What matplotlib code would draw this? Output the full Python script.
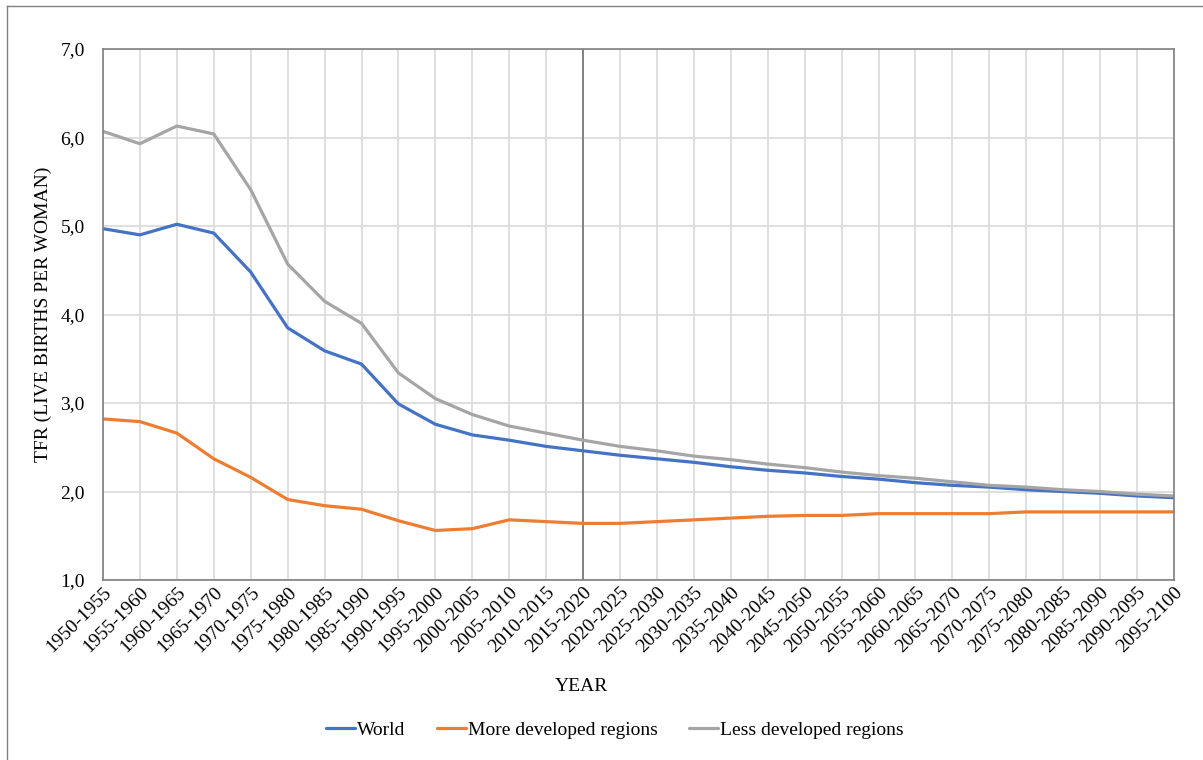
import numpy as np
import matplotlib
matplotlib.use("Agg")
import matplotlib.pyplot as plt
from matplotlib.lines import Line2D
from matplotlib.ticker import FuncFormatter

periods = [f"{y}-{y + 5}" for y in range(1950, 2100, 5)]

world = [4.97, 4.90, 5.02, 4.92, 4.48, 3.85, 3.59, 3.44, 2.99, 2.76,
         2.64, 2.58, 2.51, 2.46, 2.41, 2.37, 2.33, 2.28, 2.24, 2.21,
         2.17, 2.14, 2.10, 2.07, 2.05, 2.02, 2.00, 1.98, 1.95, 1.93]
more_dev = [2.82, 2.79, 2.66, 2.37, 2.16, 1.91, 1.84, 1.80, 1.67, 1.56,
            1.58, 1.68, 1.66, 1.64, 1.64, 1.66, 1.68, 1.70, 1.72, 1.73,
            1.73, 1.75, 1.75, 1.75, 1.75, 1.77, 1.77, 1.77, 1.77, 1.77]
less_dev = [6.07, 5.93, 6.13, 6.04, 5.41, 4.57, 4.15, 3.90, 3.34, 3.05,
            2.87, 2.74, 2.66, 2.58, 2.51, 2.46, 2.40, 2.36, 2.31, 2.27,
            2.22, 2.18, 2.15, 2.11, 2.07, 2.05, 2.02, 2.00, 1.97, 1.95]

plt.rcParams['font.family'] = ['Liberation Serif', 'DejaVu Serif']
FS = 14

fig = plt.figure(figsize=(12.03, 7.60), dpi=100)
ax = fig.add_axes([0.0856, 0.2368, 0.8903, 0.6987])

x = np.arange(len(periods))
ax.plot(x, world, color='#4472C4', lw=2.3, label='World', solid_capstyle='round')
ax.plot(x, more_dev, color='#ED7D31', lw=2.3, label='More developed regions', solid_capstyle='round')
ax.plot(x, less_dev, color='#A5A5A5', lw=2.3, label='Less developed regions', solid_capstyle='round')

# marker for the current period
ax.axvline(periods.index('2015-2020'), color='#7a7a7a', lw=1.3, zorder=1)

ax.set_xlim(0, len(periods) - 1)
ax.set_ylim(1, 7)
ax.set_yticks(np.arange(1, 8))
ax.yaxis.set_major_formatter(FuncFormatter(lambda v, p: f"{v:.1f}".replace('.', ',')))
ax.set_xticks(x)
ax.set_xticklabels(periods, rotation=45, ha='right', rotation_mode='anchor')
ax.tick_params(axis='both', length=0, labelsize=FS, colors='black')
ax.tick_params(axis='x', pad=3)
ax.tick_params(axis='y', pad=13)

ax.grid(True, color='#d9d9d9', lw=1.2)
ax.set_axisbelow(True)
for s in ax.spines.values():
    s.set_color('#808080')
    s.set_linewidth(1.2)

ax.set_ylabel('TFR (LIVE BIRTHS PER WOMAN)', fontsize=FS, labelpad=6)
ax.set_xlabel('YEAR', fontsize=FS)
ax.xaxis.set_label_coords(0.447, -0.184)

fig.legend(loc='center', bbox_to_anchor=(0.511, 0.039), ncol=3, frameon=False,
           fontsize=FS, handlelength=1.5, handletextpad=0.1, columnspacing=1.6)

# chart area border (only top and left edges fall inside the picture)
W, H = 1203, 760
fig.add_artist(Line2D([7 / W, 7 / W], [0, 1 - 6 / H], transform=fig.transFigure,
                      color='#808080', lw=1))
fig.add_artist(Line2D([7 / W, 1], [1 - 6 / H, 1 - 6 / H], transform=fig.transFigure,
                      color='#808080', lw=1))

fig.savefig('out.png', dpi=100)
